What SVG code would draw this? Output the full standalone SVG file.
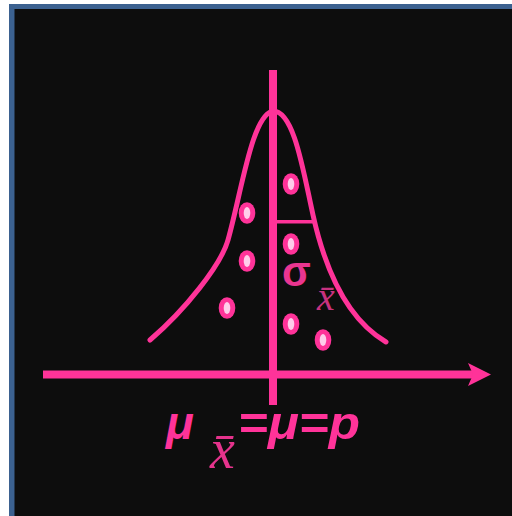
<svg xmlns="http://www.w3.org/2000/svg" width="512" height="516" viewBox="0 0 512 516">
<style>
.pk{stroke:#ff3399;fill:none}
.dot ellipse.o{fill:#ff3399}
.dot ellipse.i{fill:#ffcdea}
.bold{font-family:"Liberation Sans",Arial,sans-serif;font-weight:bold;font-style:italic;fill:#ff3399}
.ser{font-family:"Liberation Serif","DejaVu Serif",serif;font-style:italic}
</style>
<rect x="9" y="4" width="510" height="520" fill="#3b6190"/>
<rect x="14.5" y="9" width="505" height="515" fill="#0d0d0d"/>
<g id="connectors">
<line class="pk" x1="273" y1="70" x2="273" y2="405" stroke-width="8"/>
<line class="pk" x1="43" y1="374.5" x2="474" y2="374.5" stroke-width="8"/>
<polygon points="468,363 491,374.5 468,386 473,374.5" fill="#ff3399"/>
<path class="pk" stroke-width="5" stroke-linecap="round" d="M150,340 C185,310 221,265 228,240 C242,190 252,115 273,111 C294,111 303,170 313,215 C321,251 340,315 386,342"/>
<line class="pk" x1="273" y1="221.7" x2="313" y2="221.7" stroke-width="3.5"/>
</g>
<g id="dots" class="dot">
<g id="d1"><ellipse class="o" cx="291" cy="184" rx="8.3" ry="10.8"/><ellipse class="i" cx="291" cy="184" rx="3.3" ry="6"/></g>
<g id="d2"><ellipse class="o" cx="247" cy="213" rx="8.3" ry="10.8"/><ellipse class="i" cx="247" cy="213" rx="3.3" ry="6"/></g>
<g id="d3"><ellipse class="o" cx="291" cy="244" rx="8.3" ry="10.8"/><ellipse class="i" cx="291" cy="244" rx="3.3" ry="6"/></g>
<g id="d4"><ellipse class="o" cx="247" cy="261" rx="8.3" ry="10.8"/><ellipse class="i" cx="247" cy="261" rx="3.3" ry="6"/></g>
<g id="d5"><ellipse class="o" cx="227" cy="308" rx="8.3" ry="10.8"/><ellipse class="i" cx="227" cy="308" rx="3.3" ry="6"/></g>
<g id="d6"><ellipse class="o" cx="291" cy="324" rx="8.3" ry="10.8"/><ellipse class="i" cx="291" cy="324" rx="3.3" ry="6"/></g>
<g id="d7"><ellipse class="o" cx="323" cy="340" rx="8.3" ry="10.8"/><ellipse class="i" cx="323" cy="340" rx="3.3" ry="6"/></g>
</g>
<g id="sigma-label">
<text x="282" y="286" font-family="Liberation Sans,Arial,sans-serif" font-weight="bold" font-size="42" fill="#ea3590">σ</text>
<text class="ser" x="317" y="310" font-size="40" fill="#c8327f">x̄</text>
</g>
<g id="formula">
<text class="bold" x="166" y="439" font-size="46">μ</text>
<text class="ser" x="210" y="468" font-size="56" fill="#e5338c">x̄</text>
<text class="bold" x="238" y="439" font-size="46" textLength="122" lengthAdjust="spacingAndGlyphs">=μ=p</text>
</g>
</svg>
